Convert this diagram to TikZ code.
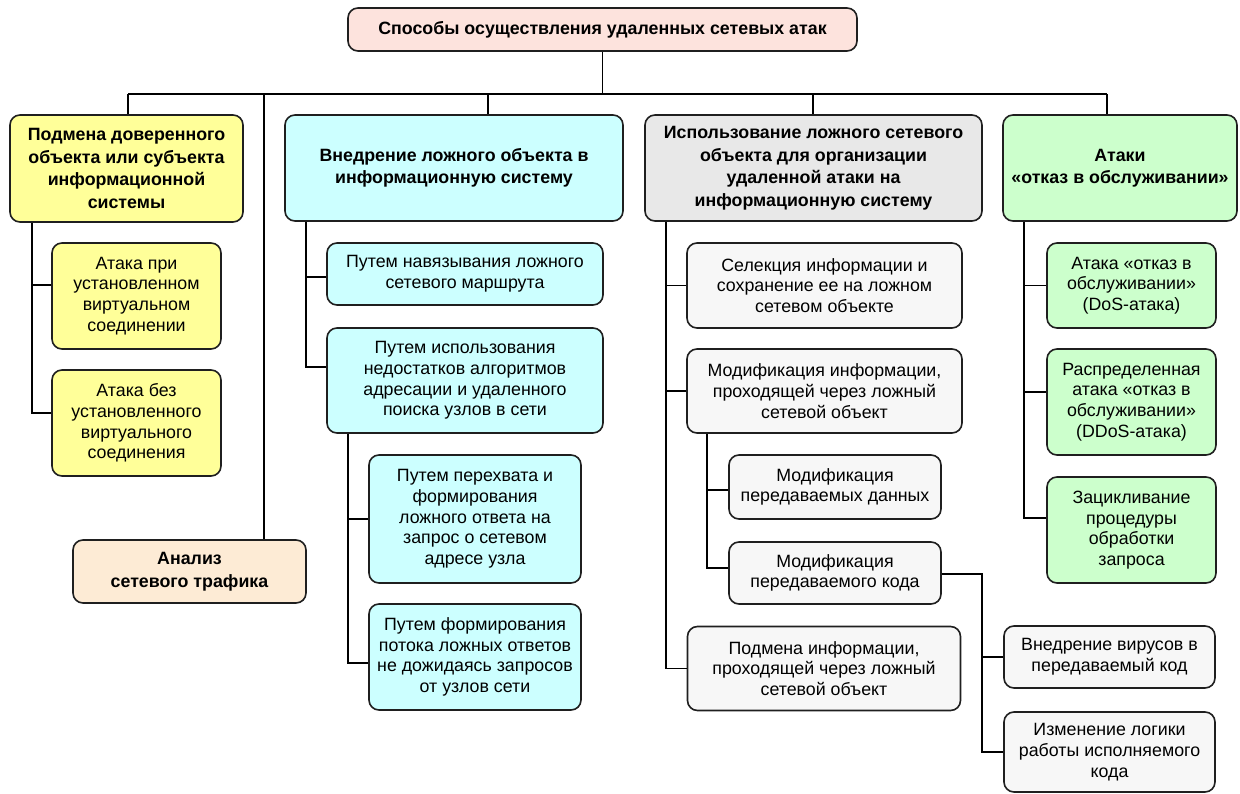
\documentclass[tikz,border=0pt]{standalone}
\usepackage{fontspec}
\setmainfont{Liberation Sans}
\definecolor{rootfill}{HTML}{FDE3DD}
\definecolor{yelfill}{HTML}{FFFF99}
\definecolor{cyanfill}{HTML}{CCFFFF}
\definecolor{greyhead}{HTML}{E8E8E8}
\definecolor{greyfill}{HTML}{F7F7F7}
\definecolor{greenfill}{HTML}{CCFFCC}
\definecolor{peachfill}{HTML}{FDEBD5}
\begin{document}
\begin{tikzpicture}[x=1pt,y=-1pt,
  box/.style={draw=black!88, line width=1.6pt, rounded corners=10pt,
    align=center, inner sep=0pt, text=black,
    font=\fontsize{17.8}{20.7}\selectfont},
  head/.style={box, font=\fontsize{17.8}{22.5}\selectfont\bfseries},
  sz/.style 2 args={minimum width=#1pt, minimum height=#2pt},
  link/.style={line width=1.8pt, black}
]
\useasboundingbox (0,0) rectangle (1240,794);

% root and first level
\node[head, fill=rootfill, sz={509}{43}] (root) at (602.5,29.5)
  {Способы осуществления удаленных сетевых атак};
\node[head, fill=yelfill, sz={233}{107}] (b1) at (126.5,168.5)
  {Подмена доверенного\\объекта или субъекта\\информационной\\системы};
\node[head, fill=cyanfill, sz={338}{106}] (b2) at (454,168)
  {Внедрение ложного объекта в\\информационную систему};
\node[head, fill=greyhead, sz={337}{106}] (b3) at (813.5,168)
  {Использование ложного сетевого\\объекта для организации\\удаленной атаки на\\информационную систему};
\node[head, fill=greenfill, sz={234}{106}] (b4) at (1120,168)
  {Атаки\\«отказ в обслуживании»};
\node[head, fill=peachfill, sz={233}{63}] (an) at (189.5,571.5)
  {Анализ\\сетевого трафика};

% first branch
\node[box, fill=yelfill, sz={169}{106}] (c11) at (136.5,296)
  {Атака при\\установленном\\виртуальном\\соединении};
\node[box, fill=yelfill, sz={169}{106}] (c12) at (136.5,423)
  {Атака без\\установленного\\виртуального\\соединения};

% second branch
\node[box, fill=cyanfill, sz={276}{62}] (c2a) at (465,274)
  {Путем навязывания ложного\\сетевого маршрута};
\node[box, fill=cyanfill, sz={276}{105}] (c2b) at (465,380.5)
  {Путем использования\\недостатков алгоритмов\\адресации и удаленного\\поиска узлов в сети};
\node[box, fill=cyanfill, sz={212}{128}] (c2c) at (475,519)
  {Путем перехвата и\\формирования\\ложного ответа на\\запрос о сетевом\\адресе узла};
\node[box, fill=cyanfill, sz={212}{106}] (c2d) at (475,657)
  {Путем формирования\\потока ложных ответов\\не дожидаясь запросов\\от узлов сети};

% third branch
\node[box, fill=greyfill, sz={275}{85}] (c3a) at (824.5,285.5)
  {Селекция информации и\\сохранение ее на ложном\\сетевом объекте};
\node[box, fill=greyfill, sz={275}{84}] (c3b) at (824.5,391)
  {Модификация информации,\\проходящей через ложный\\сетевой объект};
\node[box, fill=greyfill, sz={212}{64}] (c3c) at (835,487)
  {Модификация\\передаваемых данных};
\node[box, fill=greyfill, sz={212}{62}] (c3d) at (835,573)
  {Модификация\\передаваемого кода};
\node[box, fill=greyfill, sz={273}{84}] (c3e) at (824,668.5)
  {Подмена информации,\\проходящей через ложный\\сетевой объект};
\node[box, fill=greyfill, sz={211}{62}] (c3f) at (1109.5,657)
  {Внедрение вирусов в\\передаваемый код};
\node[box, fill=greyfill, sz={211}{80}] (c3g) at (1109.5,752)
  {Изменение логики\\работы исполняемого\\кода};

% fourth branch
\node[box, fill=greenfill, sz={169}{85}] (c4a) at (1131.5,285.5)
  {Атака «отказ в\\обслуживании»\\(DoS-атака)};
\node[box, fill=greenfill, sz={169}{106}] (c4b) at (1131.5,402)
  {Распределенная\\атака «отказ в\\обслуживании»\\(DDoS-атака)};
\node[box, fill=greenfill, sz={169}{106}] (c4c) at (1131.5,530)
  {Зацикливание\\процедуры\\обработки\\запроса};

% bus under the root
\coordinate (busL) at (128,94);
\coordinate (busR) at (1107,94);
\coordinate (tapA) at (264,94);
\coordinate (tap2) at (488,94);
\coordinate (tap3) at (813,94);
\draw[link] (root.south) -- (root.south |- busL);
\draw[link] (busL) -- (busR);
\draw[link] (busL) -- (busL |- b1.north);
\draw[link] (tapA) -- (tapA |- an.north);
\draw[link] (tap2) -- (tap2 |- b2.north);
\draw[link] (tap3) -- (tap3 |- b3.north);
\draw[link] (busR) -- (busR |- b4.north);

% trunks of the branches
\coordinate (t1) at (32,0);
\coordinate (t2) at (306,0);
\coordinate (t2b) at (348,0);
\coordinate (t3) at (666,0);
\coordinate (t3b) at (707,0);
\coordinate (t3d) at (982,0);
\coordinate (t4) at (1024,0);

\draw[link] (b1.south -| t1) |- ([yshift=10pt]c12.west);
\draw[link] ([yshift=11pt]c11.west) -- ([yshift=11pt]c11.west -| t1);

\draw[link] (b2.south -| t2) |- ([yshift=13.5pt]c2b.west);
\draw[link] ([yshift=-3pt]c2a.west) -- ([yshift=-3pt]c2a.west -| t2);

\draw[link] (c2b.south -| t2b) |- ([yshift=-6pt]c2d.west);
\draw[link] (c2c.west) -- (c2c.west -| t2b);

\draw[link] (b3.south -| t3) |- (c3e.west);
\draw[link] (c3a.west) -- (c3a.west -| t3);
\draw[link] (c3b.west) -- (c3b.west -| t3);

\draw[link] (c3b.south -| t3b) |- ([yshift=5pt]c3d.west);
\draw[link] ([yshift=-3pt]c3c.west) -- ([yshift=-3pt]c3c.west -| t3b);

\draw[link] ([yshift=-1pt]c3d.east) -| (t3d |- c3g.west) -- (c3g.west);
\draw[link] (c3f.west) -- (c3f.west -| t3d);

\draw[link] (b4.south -| t4) |- ([yshift=12pt]c4c.west);
\draw[link] (c4a.west) -- (c4a.west -| t4);
\draw[link] ([yshift=10pt]c4b.west) -- ([yshift=10pt]c4b.west -| t4);
\end{tikzpicture}
\end{document}
